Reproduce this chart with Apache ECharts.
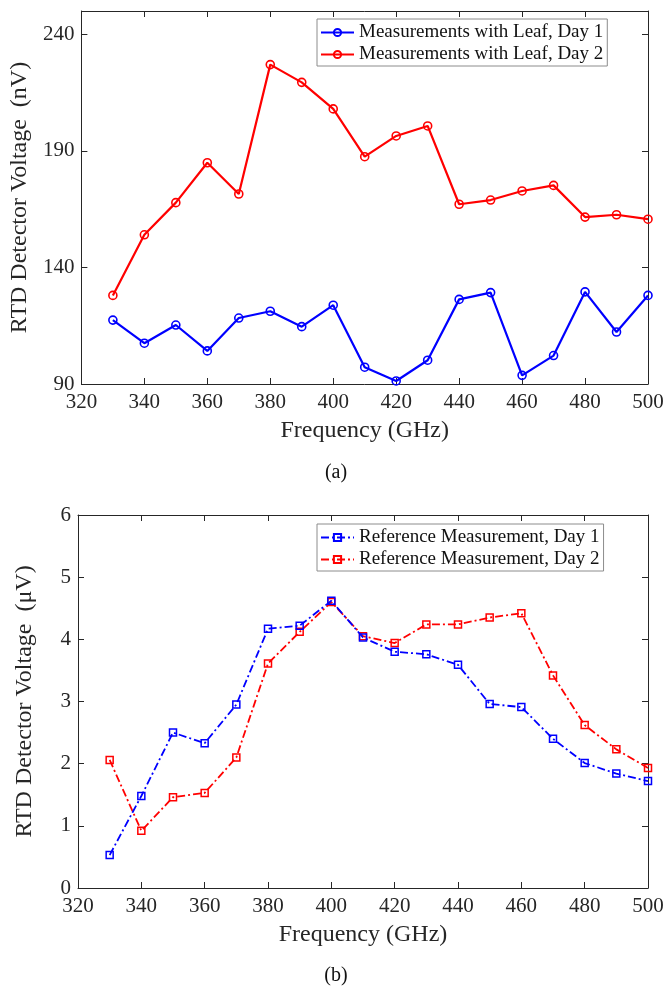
<!DOCTYPE html>
<html>
<head>
<meta charset="utf-8">
<script src="https://cdn.jsdelivr.net/npm/echarts@6/dist/echarts.min.js"></script>
<style>
  html, body { margin: 0; padding: 0; background: #ffffff; }
  #chart { width: 667px; height: 989px; }
</style>
</head>
<body>
<div id="chart"></div>
<script>
// Frequency sweep points (GHz)
const freq = [330, 340, 350, 360, 370, 380, 390, 400, 410, 420, 430, 440, 450, 460, 470, 480, 490, 500];

// (a) RTD detector voltage with leaf in the path (nV)
const leafDay1 = [117.4, 107.5, 115.3, 104.2, 118.3, 121.2, 114.6, 123.8, 97.2, 91.3, 100.2, 126.3, 129.2, 93.7, 102.2, 129.5, 112.3, 128.0];
const leafDay2 = [128.0, 154.0, 167.8, 184.9, 171.5, 227.0, 219.4, 208.0, 187.5, 196.4, 200.7, 167.1, 168.9, 172.8, 175.2, 161.6, 162.6, 160.7];

// (b) Reference measurement without leaf (µV)
const refDay1 = [0.53, 1.48, 2.50, 2.33, 2.95, 4.17, 4.22, 4.62, 4.03, 3.80, 3.76, 3.59, 2.96, 2.91, 2.40, 2.01, 1.84, 1.72];
const refDay2 = [2.06, 0.92, 1.46, 1.53, 2.10, 3.61, 4.12, 4.60, 4.05, 3.94, 4.24, 4.24, 4.35, 4.42, 3.42, 2.62, 2.23, 1.93];

const seriesNamesA = ['Measurements with Leaf, Day 1', 'Measurements with Leaf, Day 2'];
const seriesNamesB = ['Reference Measurement, Day 1', 'Reference Measurement, Day 2'];
const xTitle = 'Frequency (GHz)';
const yTitleA = 'RTD Detector Voltage  (nV)';
const yTitleB = 'RTD Detector Voltage  (\u03bcV)';
const captions = ['(a)', '(b)'];

const FONT = "'Liberation Serif', 'DejaVu Serif', serif";
const INK = '#262626';
const BLUE = '#0000ff';
const RED = '#ff0000';

const pairs = (xs, ys) => xs.map((x, i) => [x, ys[i]]);

function frameAxis(extra) {
  return Object.assign({
    type: 'value',
    axisLine: { show: true, onZero: false, lineStyle: { color: INK, width: 1 } },
    axisTick: { show: true, inside: true, length: 6, lineStyle: { color: INK, width: 1 } },
    axisLabel: { color: INK, fontFamily: FONT, fontSize: 21 },
    splitLine: { show: false },
    nameTextStyle: { color: INK, fontFamily: FONT, fontSize: 24 }
  }, extra);
}

function xAxes(gridIndex) {
  return [
    frameAxis({ gridIndex, position: 'bottom', min: 320, max: 500, interval: 20,
      axisLabel: { color: INK, fontFamily: FONT, fontSize: 21, margin: 8 },
      name: xTitle, nameLocation: 'middle', nameGap: 35 }),
    frameAxis({ gridIndex, position: 'top', min: 320, max: 500, interval: 20,
      axisLabel: { show: false } })
  ];
}

function yAxes(gridIndex, min, max, interval, title, hideMax) {
  return [
    frameAxis({ gridIndex, position: 'left', min, max, interval,
      axisLabel: { color: INK, fontFamily: FONT, fontSize: 21, margin: 7, showMaxLabel: !hideMax },
      name: title, nameLocation: 'middle', nameGap: 41, nameRotate: 90 }),
    frameAxis({ gridIndex, position: 'right', min, max, interval,
      axisLabel: { show: false } })
  ];
}

function circleSeries(name, values, color) {
  return {
    type: 'line', name, xAxisIndex: 0, yAxisIndex: 0,
    data: pairs(freq, values),
    symbol: 'circle', symbolSize: 8, showAllSymbol: true,
    lineStyle: { color, width: 2.2 },
    itemStyle: { color: 'rgba(255,255,255,0)', borderColor: color, borderWidth: 1.6 },
    emphasis: { disabled: true },
    z: color === BLUE ? 3 : 2
  };
}

function squareSeries(name, values, color) {
  return {
    type: 'line', name, xAxisIndex: 2, yAxisIndex: 2,
    data: pairs(freq, values),
    symbol: 'rect', symbolSize: 7, showAllSymbol: true,
    lineStyle: { color, width: 1.8, type: [8, 3, 2, 3] },
    itemStyle: { color: 'rgba(255,255,255,0)', borderColor: color, borderWidth: 1.5 },
    emphasis: { disabled: true },
    z: color === BLUE ? 3 : 2
  };
}

function legendBox(names, top) {
  return {
    data: names,
    orient: 'vertical',
    left: 317, top,
    padding: [4, 4, 2, 3],
    itemGap: 3,
    itemWidth: 33, itemHeight: 9,
    backgroundColor: '#ffffff',
    borderColor: '#8c8c8c', borderWidth: 1, borderRadius: 0,
    textStyle: { color: '#111111', fontFamily: FONT, fontSize: 19 },
    selectedMode: false
  };
}

const chart = echarts.init(document.getElementById('chart'), null, { renderer: 'canvas' });

chart.setOption({
  animation: false,
  backgroundColor: '#ffffff',
  grid: [
    { left: 78, right: 19, top: 11, height: 373, containLabel: false },
    { left: 78, right: 19, top: 515, height: 373, containLabel: false }
  ],
  xAxis: [...xAxes(0), ...xAxes(1)],
  yAxis: [...yAxes(0, 90, 250, 50, yTitleA, true), ...yAxes(1, 0, 6, 1, yTitleB, false)],
  legend: [legendBox(seriesNamesA, 19), legendBox(seriesNamesB, 524)],
  series: [
    circleSeries(seriesNamesA[0], leafDay1, BLUE),
    circleSeries(seriesNamesA[1], leafDay2, RED),
    squareSeries(seriesNamesB[0], refDay1, BLUE),
    squareSeries(seriesNamesB[1], refDay2, RED)
  ],
  graphic: [
    { type: 'text', x: 336, y: 473, style: { text: captions[0], fill: '#111111', fontFamily: FONT, fontSize: 20, align: 'center', verticalAlign: 'middle' } },
    { type: 'text', x: 336, y: 976, style: { text: captions[1], fill: '#111111', fontFamily: FONT, fontSize: 20, align: 'center', verticalAlign: 'middle' } }
  ]
});
</script>
</body>
</html>
